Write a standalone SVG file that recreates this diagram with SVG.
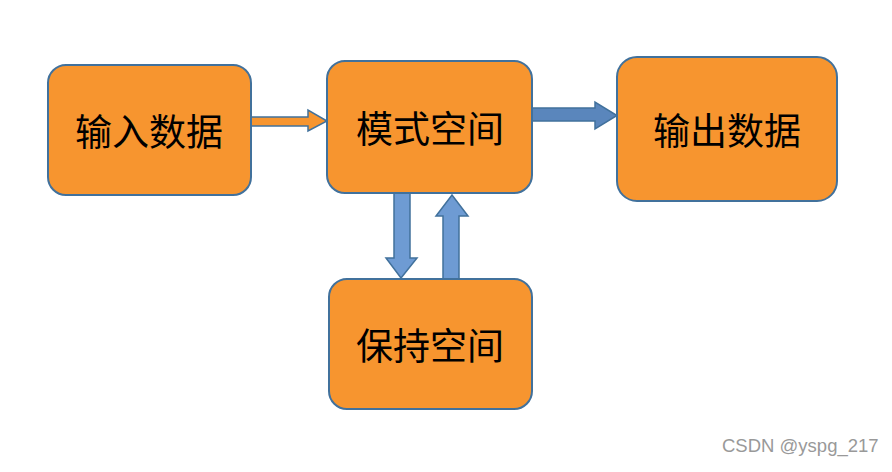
<svg xmlns="http://www.w3.org/2000/svg" width="892" height="472" viewBox="0 0 892 472">
<style>
.box{fill:#F7952F;stroke:#41719C;stroke-width:2}
.t{font-family:"Noto Sans CJK SC","Noto Sans",sans-serif;font-size:37px;fill:#000;text-anchor:middle;dominant-baseline:central}
.ao{fill:#F7952F;stroke:#41719C;stroke-width:1.5}
.ab{fill:#5A86BC;stroke:#41719C;stroke-width:1.5}
.al{fill:#6E9BD3;stroke:#41719C;stroke-width:1.5}
.wm{font-family:"Liberation Sans",Arial,sans-serif;font-size:18.5px;fill:#999}
</style>
<rect width="892" height="472" fill="#fff"/>
<g id="connectors">
<polygon class="ao" points="250,117 308,117 308,110 327,121 308,131 308,126 250,126"/>
<polygon class="ab" points="532,108 595,108 595,102 617,115.5 595,129 595,121 532,121"/>
<polygon class="al" points="394,193 410,193 410,258 417,258 401,278 386,258 394,258"/>
<polygon class="al" points="443,279 459,279 459,216 468,216 452,195 436,216 443,216"/>
</g>
<g id="input"><rect class="box" x="48" y="65" width="203" height="130" rx="18"/><text class="t" x="149" y="130">输入数据</text></g>
<g id="pattern"><rect class="box" x="327" y="61" width="205" height="132" rx="18"/><text class="t" x="430" y="127">模式空间</text></g>
<g id="output"><rect class="box" x="617" y="57" width="220" height="144" rx="20"/><text class="t" x="727" y="129">输出数据</text></g>
<g id="hold"><rect class="box" x="329" y="279" width="203" height="130" rx="18"/><text class="t" x="430" y="344">保持空间</text></g>
<text class="wm" x="722" y="452">CSDN @yspg_217</text>
</svg>
